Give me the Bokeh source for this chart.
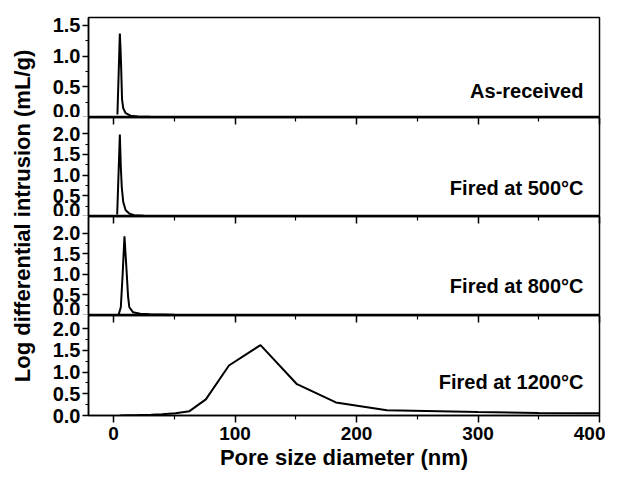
from bokeh.plotting import figure
from bokeh.layouts import row, column
from bokeh.models import Range1d, LinearAxis, FixedTicker, PrintfTickFormatter, CustomJSTickFormatter, Label
from bokeh.embed import file_html
from bokeh.resources import INLINE

# ---------------- data ----------------
x_asrec = [3.2, 4.2, 5.2, 5.8, 6.3, 7.0, 8.0, 10, 14, 20, 30, 50, 100, 200, 300, 400]
y_asrec = [0.05, 0.7, 1.37, 1.1, 0.8, 0.3, 0.15, 0.07, 0.03, 0.015, 0.012, 0.01, 0.008, 0.005, 0.004, 0.003]

x_500 = [3.0, 4.2, 5.2, 6.0, 6.8, 8.0, 10, 13, 17, 25, 50, 100, 200, 300, 400]
y_500 = [0.05, 1.1, 1.98, 1.2, 0.7, 0.35, 0.15, 0.07, 0.03, 0.02, 0.012, 0.01, 0.006, 0.004, 0.003]

x_800 = [4.0, 6.0, 7.5, 9.0, 10.5, 12.0, 13.0, 16, 22, 30, 50, 100, 200, 300, 400]
y_800 = [0.0, 0.2, 1.0, 1.92, 1.2, 0.45, 0.2, 0.08, 0.04, 0.03, 0.02, 0.012, 0.01, 0.007, 0.005]

x_1200 = [5, 20, 31, 40, 51, 62.5, 76, 95, 121, 151, 183, 225, 300, 350, 400]
y_1200 = [0.0, 0.01, 0.02, 0.03, 0.05, 0.1, 0.37, 1.15, 1.62, 0.72, 0.3, 0.12, 0.08, 0.06, 0.05]

panel_labels = ["As-received", "Fired at 500°C", "Fired at 800°C", "Fired at 1200°C"]
x_major = [0, 100, 200, 300, 400]
x_minor = [50, 150, 250, 350]
y_major_1 = [0.0, 0.5, 1.0, 1.5]
y_minor_1 = [0.25, 0.75, 1.25]
y_major_2 = [0.0, 0.5, 1.0, 1.5, 2.0]
y_minor_2 = [0.25, 0.75, 1.25, 1.75]

FONT = "Liberation Sans"
YTICK_SIZE = "20px"
XTICK_SIZE = "19px"
TITLE_SIZE = "22px"
LABEL_SIZE = "20px"

xr = Range1d(-20.6, 400)


def make_panel(x, y, ymax, ymaj, ymin, label, label_y, frame_h, mb_top, top_axis, bottom_axis):
    p = figure(frame_width=511, frame_height=frame_h, x_range=xr, y_range=Range1d(0, ymax),
               output_backend="svg", toolbar_location=None,
               x_axis_location="below" if bottom_axis else None,
               min_border_left=50, min_border_right=6, min_border_top=mb_top, min_border_bottom=0,
               background_fill_color="white", border_fill_color="white")
    p.grid.visible = False
    p.outline_line_color = "black"
    p.outline_line_width = 1.5
    p.outline_line_alpha = 1.0

    p.line(x, y, line_color="black", line_width=2)

    ya = p.left[0]
    ya.ticker = FixedTicker(ticks=ymaj, minor_ticks=ymin)
    ya.formatter = PrintfTickFormatter(format="%.1f")
    ya.major_tick_in = 0
    ya.major_tick_out = 6
    ya.minor_tick_in = 0
    ya.minor_tick_out = 3
    ya.major_tick_line_width = 1.5
    ya.minor_tick_line_width = 1.2
    ya.axis_line_width = 1.5
    ya.major_label_standoff = 2
    ya.major_label_text_font = FONT
    ya.major_label_text_font_style = "bold"
    ya.major_label_text_font_size = YTICK_SIZE
    ya.major_label_text_color = "black"

    if bottom_axis:
        xa = p.below[0]
        xa.ticker = FixedTicker(ticks=x_major, minor_ticks=x_minor)
        xa.major_tick_in = 0
        xa.major_tick_out = 7
        xa.minor_tick_in = 0
        xa.minor_tick_out = 4
        xa.major_tick_line_width = 1.5
        xa.minor_tick_line_width = 1.2
        xa.axis_line_width = 1.5
        xa.major_label_standoff = 4
        xa.major_label_text_font = FONT
        xa.major_label_text_font_style = "bold"
        xa.major_label_text_font_size = XTICK_SIZE
        xa.major_label_text_color = "black"
        xa.axis_label = "Pore size diameter (nm)"
        xa.axis_label_standoff = 2
        xa.axis_label_text_font = FONT
        xa.axis_label_text_font_style = "bold"
        xa.axis_label_text_font_size = TITLE_SIZE
        xa.axis_label_text_color = "black"

    if top_axis:
        ta = LinearAxis(ticker=FixedTicker(ticks=x_major, minor_ticks=x_minor),
                        formatter=CustomJSTickFormatter(code="return ''"))
        ta.major_tick_in = 7
        ta.major_tick_out = 0
        ta.minor_tick_in = 4
        ta.minor_tick_out = 0
        ta.major_label_standoff = 0
        ta.major_tick_line_width = 1.5
        ta.minor_tick_line_width = 1.2
        ta.axis_line_width = 1.5
        p.add_layout(ta, "above")

    p.add_layout(Label(x=386.8, y=label_y, text=label, text_align="right", text_baseline="middle",
                       text_font=FONT, text_font_style="bold", text_font_size=LABEL_SIZE,
                       text_color="black"))
    return p


p1 = make_panel(x_asrec, y_asrec, 1.63, y_major_1, y_minor_1, panel_labels[0], 0.44, 100, 17, False, False)
p2 = make_panel(x_500, y_500, 2.39, y_major_2, y_minor_2, panel_labels[1], 0.70, 99, 0, True, False)
p3 = make_panel(x_800, y_800, 2.40, y_major_2, y_minor_2, panel_labels[2], 0.71, 99, 0, True, False)
p4 = make_panel(x_1200, y_1200, 2.30, y_major_2, y_minor_2, panel_labels[3], 0.76, 100, 0, True, True)

H = 415
ptitle = figure(width=38, height=H, x_range=Range1d(0, 38), y_range=Range1d(0, H),
                x_axis_location=None, y_axis_location=None, min_border=0,
                output_backend="svg", toolbar_location=None, outline_line_color=None)
ptitle.grid.visible = False
ptitle.add_layout(Label(x=22, y=H - 215.5, text="Log differential intrusion (mL/g)",
                        angle=90, angle_units="deg", text_align="center", text_baseline="middle",
                        text_font=FONT, text_font_style="bold", text_font_size=TITLE_SIZE,
                        text_color="black"))

layout = row(ptitle, column(p1, p2, p3, p4, spacing=0), spacing=0)

open("out.html", "w").write(file_html(layout, INLINE))
